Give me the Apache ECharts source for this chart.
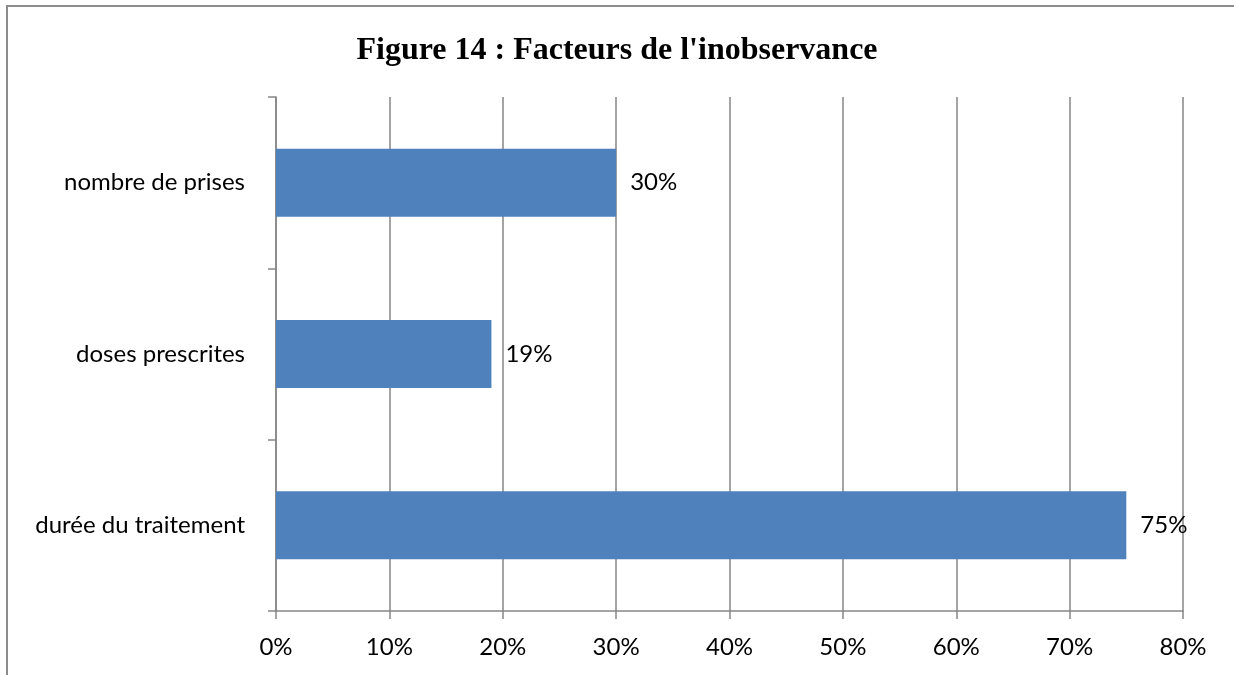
<!DOCTYPE html>
<html>
<head>
<meta charset="utf-8">
<script src="https://cdn.jsdelivr.net/npm/echarts@6/dist/echarts.min.js"></script>
<style>
  html, body { margin: 0; padding: 0; background: #fff; }
  #chart { width: 1234px; height: 675px; }
</style>
</head>
<body>
<div id="chart"></div>
<script>
// data
const categories = ['durée du traitement', 'doses prescrites', 'nombre de prises']
const values = [75, 19, 30]
const titleText = "Figure 14 : Facteurs de l'inobservance"

const chart = echarts.init(document.getElementById('chart'))

const axisGray = '#868686'

const option = {
  animation: false,
  title: {
    text: titleText,
    left: 'center',
    top: 30,
    textStyle: {
      fontFamily: 'Liberation Serif',
      fontWeight: 'bold',
      fontSize: 32,
      color: '#000'
    }
  },
  // outer chart border, clipped on right and bottom like the picture
  graphic: [
    {
      type: 'rect',
      shape: { x: 7, y: 6, width: 1240, height: 690 },
      style: { fill: 'none', stroke: '#8c8c8c', lineWidth: 2 }
    }
  ],
  grid: {
    left: 276,
    right: 51,
    top: 97,
    bottom: 64
  },
  xAxis: {
    type: 'value',
    min: 0,
    max: 80,
    interval: 10,
    axisLine: { show: true, lineStyle: { color: axisGray, width: 1.5 } },
    axisTick: { show: true, length: 8, lineStyle: { color: axisGray, width: 1.5 } },
    splitLine: { show: true, lineStyle: { color: axisGray, width: 1.5 } },
    axisLabel: {
      formatter: '{value}%',
      margin: 24,
      fontFamily: 'Lato',
      fontSize: 24,
      color: '#000'
    }
  },
  yAxis: {
    type: 'category',
    data: categories,
    axisLine: { show: true, lineStyle: { color: axisGray, width: 1.5 } },
    axisTick: { show: true, length: 8, lineStyle: { color: axisGray, width: 1.5 } },
    axisLabel: {
      margin: 31,
      fontFamily: 'Lato',
      fontSize: 24,
      color: '#000'
    }
  },
  series: [
    {
      type: 'bar',
      data: values,
      barWidth: 68,
      itemStyle: { color: '#4F81BD' },
      label: {
        show: true,
        position: 'right',
        distance: 14,
        formatter: '{c}%',
        fontFamily: 'Lato',
        fontSize: 24,
        color: '#000'
      }
    }
  ]
}

chart.setOption(option)
</script>
</body>
</html>
